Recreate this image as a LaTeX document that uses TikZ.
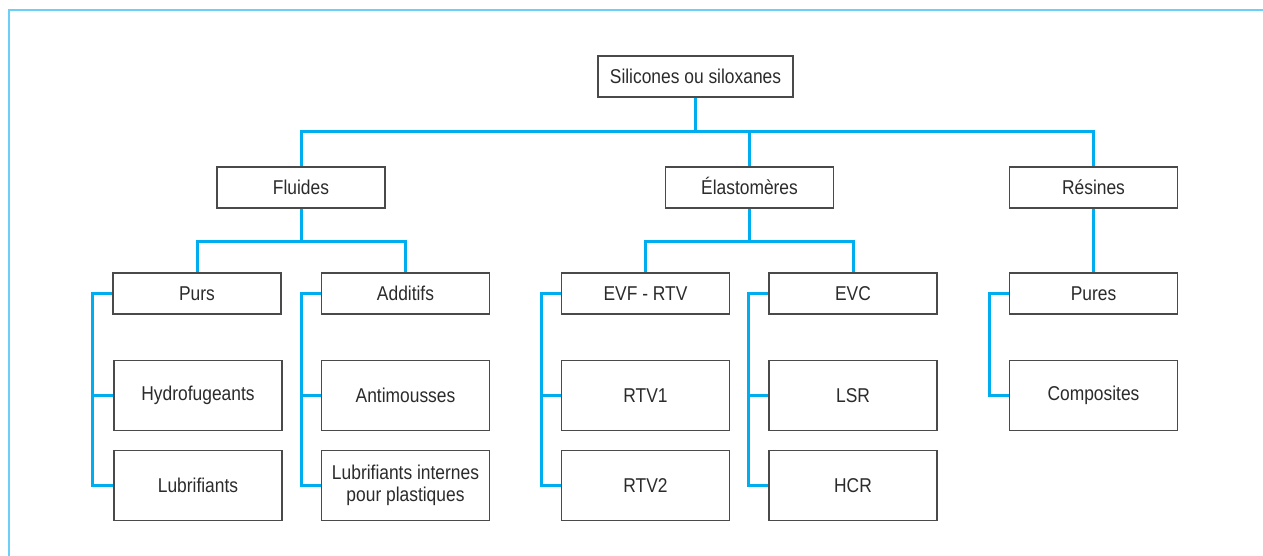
\documentclass[tikz,border=0pt]{standalone}
\usepackage{fontspec}
\setmainfont[FakeStretch=0.87]{Liberation Sans}
\definecolor{linkcol}{HTML}{00AEEF}
\definecolor{framecol}{HTML}{6CCFF6}
\definecolor{boxcol}{HTML}{4A4A4A}
\definecolor{textcol}{HTML}{2B2B2B}
\begin{document}
\begin{tikzpicture}[x=1pt,y=-1pt,
  box/.style={draw=boxcol, line width=1.1pt, fill=white, text=textcol,
    minimum width=168pt, minimum height=41pt, inner sep=0pt, align=center,
    font=\fontsize{20}{21.5}\selectfont},
  tallbox/.style={box, minimum height=70pt},
  link/.style={draw=linkcol, line width=3pt, line join=miter}]
\useasboundingbox (0,0) rectangle (1263,556);
\fill[white] (0,0) rectangle (1263,556);
\draw[framecol, line width=1.5pt] (9,556) -- (9,10) -- (1263,10);

% level 0
\node[box, minimum width=195pt] (root) at (695.5,76.5) {Silicones ou siloxanes};
% level 1
\node[box] (fluides) at (301,187.5) {Fluides};
\node[box] (elasto) at (749.5,187.5) {\smash{É}lastomères};
\node[box] (resines) at (1093.5,187.5) {Résines};
% level 2
\node[box] (purs) at (197,293.5) {Purs};
\node[box] (additifs) at (405.5,293.5) {Additifs};
\node[box] (evf) at (645.5,293.5) {EVF - RTV};
\node[box] (evc) at (853,293.5) {EVC};
\node[box] (pures) at (1093.5,293.5) {Pures};
% level 3
\node[tallbox] (hydro) at (198,395.5) {Hydrofugeants};
\node[tallbox] (lubri) at (198,485.5) {Lubrifiants};
\node[tallbox] (antim) at (405.5,395.5) {Antimousses};
\node[tallbox] (lubint) at (405.5,485.5) {Lubrifiants internes\\pour plastiques};
\node[tallbox] (rtv1) at (645.5,395.5) {RTV1};
\node[tallbox] (rtv2) at (645.5,485.5) {RTV2};
\node[tallbox] (lsr) at (853,395.5) {LSR};
\node[tallbox] (hcr) at (853,485.5) {\raisebox{-7pt}{HCR}};
\node[tallbox] (compo) at (1093.5,395.5) {Composites};

% connectors level 0 -> 1
\coordinate (b1) at (695.5,131.5);
\draw[link] (root.south) -- (b1);
\draw[link] (fluides.north) |- (b1) -| (resines.north);
\draw[link] (elasto.north) -- (elasto.north |- b1);
% level 1 -> 2
\coordinate (b2) at (301,241);
\coordinate (b3) at (749.5,241);
\draw[link] (fluides.south) -- (b2);
\draw[link] (purs.north) |- (b2) -| (additifs.north);
\draw[link] (elasto.south) -- (b3);
\draw[link] (evf.north) |- (b3) -| (evc.north);
\draw[link] (resines.south) -- (pures.north);
% brackets
\foreach \p/\a/\b in {purs/hydro/lubri, additifs/antim/lubint, evf/rtv1/rtv2, evc/lsr/hcr}{
  \coordinate (k\p) at ([xshift=-19.5pt]\p.west);
  \draw[link] (\p.west) -- (k\p) |- (\b.west);
  \draw[link] (\a.west) -- (\a.west -| k\p);
}
\coordinate (kpures) at ([xshift=-19.5pt]pures.west);
\draw[link] (pures.west) -- (kpures) |- (compo.west);
\end{tikzpicture}
\end{document}
